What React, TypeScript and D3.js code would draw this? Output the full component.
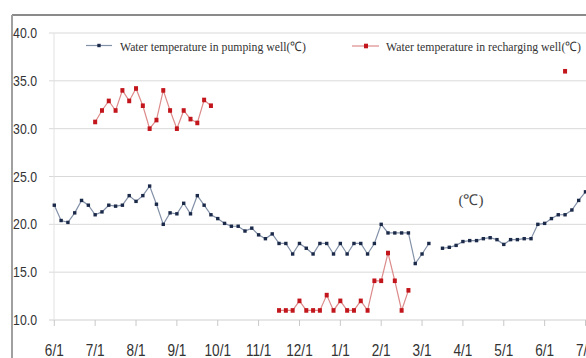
import React from "react";
import * as d3 from "d3";

// Month labels on the category axis (six readings per month)
const monthLabels = ["6/1", "7/1", "8/1", "9/1", "10/1", "11/1", "12/1", "1/1", "2/1", "3/1", "4/1", "5/1", "6/1", "7/1"];
const yTicks = [10, 15, 20, 25, 30, 35, 40];

// Pumping well temperature (℃), one reading every ~5 days; null = no reading
const pumping: (number | null)[] = [
  22.0, 20.4, 20.2, 21.2, 22.5, 22.0, 21.0, 21.3, 22.0, 21.9, 22.0, 23.0, 22.4, 23.0, 24.0, 22.1,
  20.0, 21.2, 21.1, 22.2, 21.1, 23.0, 22.0, 21.0, 20.6, 20.1, 19.8, 19.8, 19.3, 19.6, 18.9, 18.5,
  19.0, 18.0, 18.0, 16.9, 18.0, 17.5, 16.9, 18.0, 18.0, 16.9, 18.0, 16.9, 18.0, 18.0, 16.9, 18.0,
  20.0, 19.1, 19.1, 19.1, 19.1, 15.9, 16.9, 18.0, null, 17.5, 17.6, 17.8, 18.2, 18.3, 18.3, 18.5,
  18.6, 18.4, 17.9, 18.4, 18.4, 18.5, 18.5, 20.0, 20.1, 20.6, 21.0, 21.0, 21.5, 22.5, 23.4,
];

// Recharging well temperature (℃), same reading slots; null = no reading
const recharging: (number | null)[] = [
  null, null, null, null, null, null, 30.7, 31.9, 32.9, 31.9, 34.0, 32.9, 34.2, 32.4, 30.0, 30.9,
  34.0, 31.9, 30.0, 31.9, 31.0, 30.6, 33.0, 32.4, null, null, null, null, null, null, null, null,
  null, 11.0, 11.0, 11.0, 12.0, 11.0, 11.0, 11.0, 12.6, 11.0, 12.0, 11.0, 11.0, 12.0, 11.0, 14.1,
  14.1, 17.0, 14.1, 11.0, 13.1, null, null, null, null, null, null, null, null, null, null, null,
  null, null, null, null, null, null, null, null, null, null, null, 36.0, null, null, null,
];

const W = 586;
const H = 358;
const PUMP_LINE = "#8391a8";
const PUMP_MARK = "#1c2a4a";
const RECH_LINE = "#dc8a8a";
const RECH_MARK = "#c3161c";

export default function App() {
  const x = d3.scaleLinear().domain([0, 78]).range([54.3, 585.5]);
  const y = d3.scaleLinear().domain([10, 40]).range([320, 33]);

  const line = d3
    .line<number | null>()
    .defined((d) => d !== null)
    .x((_, i) => x(i))
    .y((d) => y(d as number));

  const monthIdx = monthLabels.map((_, i) => i * 6);

  return (
    <svg width={W} height={H} style={{ position: "absolute", left: 0, top: 0, background: "#fff" }}>
      <rect x={0} y={0} width={W} height={H} fill="#fff" />
      {/* frame */}
      <line x1={12} y1={15} x2={W} y2={15} stroke="#8a8a8a" strokeWidth={2} />
      <line x1={12} y1={15} x2={12} y2={H} stroke="#a0a0a0" strokeWidth={2} />

      {/* gridlines and y labels */}
      {yTicks.map((t) => (
        <g key={t}>
          <line x1={49} x2={W} y1={y(t)} y2={y(t)} stroke={t === 10 ? "#cfcfcf" : "#d9d9d9"} strokeWidth={1} />
          <text
            transform={`translate(37,${y(t) + 5}) scale(0.82,1)`}
            textAnchor="end"
            fontFamily="Liberation Sans, Arial, sans-serif"
            fontSize={15}
            fill="#333"
          >
            {t.toFixed(1)}
          </text>
        </g>
      ))}
      <line x1={54} x2={54} y1={y(40)} y2={y(10)} stroke="#e2e2e2" strokeWidth={1} />

      {/* x ticks and labels */}
      {monthIdx.map((m, i) => (
        <g key={i}>
          <line x1={x(m)} x2={x(m)} y1={320} y2={326} stroke="#c8c8c8" strokeWidth={1} />
          <text
            transform={`translate(${x(m)},356) scale(0.85,1)`}
            textAnchor="middle"
            fontFamily="Liberation Sans, Arial, sans-serif"
            fontSize={16}
            fill="#333"
          >
            {monthLabels[i]}
          </text>
        </g>
      ))}

      {/* series */}
      <path d={line(pumping) ?? ""} fill="none" stroke={PUMP_LINE} strokeWidth={1.2} />
      {pumping.map((v, i) =>
        v === null ? null : (
          <rect key={`p${i}`} x={x(i) - 1.7} y={y(v) - 1.7} width={3.4} height={3.4} fill={PUMP_MARK} />
        )
      )}
      <path d={line(recharging) ?? ""} fill="none" stroke={RECH_LINE} strokeWidth={1.2} />
      {recharging.map((v, i) =>
        v === null ? null : (
          <rect key={`r${i}`} x={x(i) - 2} y={y(v) - 2.3} width={4} height={4.6} fill={RECH_MARK} />
        )
      )}

      {/* legend */}
      <line x1={86} x2={112} y1={45.5} y2={45.5} stroke={PUMP_LINE} strokeWidth={1.2} />
      <rect x={97.3} y={43.8} width={3.4} height={3.4} fill={PUMP_MARK} />
      <text x={120} y={50.5} fontFamily="Liberation Serif, Times New Roman, serif" fontSize={13} fill="#333" textLength={186} lengthAdjust="spacingAndGlyphs">
        Water temperature in pumping well(℃)
      </text>
      <line x1={352} x2={379} y1={46} y2={46} stroke={RECH_LINE} strokeWidth={1.2} />
      <rect x={364} y={43.7} width={4} height={4.6} fill={RECH_MARK} />
      <text x={386} y={50.5} fontFamily="Liberation Serif, Times New Roman, serif" fontSize={13} fill="#333" textLength={195} lengthAdjust="spacingAndGlyphs">
        Water temperature in recharging well(℃)
      </text>

      {/* unit label */}
      <text x={471} y={205} textAnchor="middle" fontFamily="Liberation Serif, Times New Roman, serif" fontSize={15} fill="#444">
        (℃)
      </text>
    </svg>
  );
}
